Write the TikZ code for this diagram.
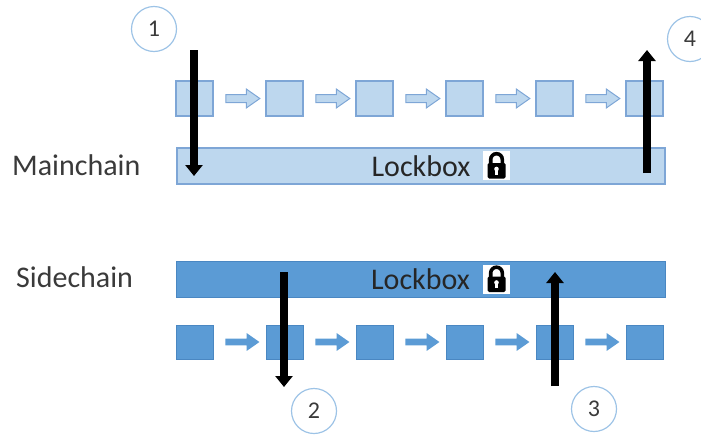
\documentclass[tikz,border=0pt]{standalone}
\usepackage{fontspec}
\setmainfont{Carlito}
\usetikzlibrary{arrows.meta,shapes.arrows}

\definecolor{mainfill}{HTML}{BDD7EE}
\definecolor{mainline}{HTML}{7EA6D6}
\definecolor{sidefill}{HTML}{5B9BD5}
\definecolor{sideline}{HTML}{4A87C2}
\definecolor{ringline}{HTML}{9DC3E6}
\definecolor{labelgray}{HTML}{3A3A3A}

\tikzset{
  chainlabel/.style={font=\fontsize{30}{36}\selectfont,text=labelgray,inner sep=0pt},
  mainblock/.style={draw=mainline,fill=mainfill,line width=1.2pt,minimum width=37pt,minimum height=35pt,inner sep=0pt},
  sideblock/.style={draw=sideline,fill=sidefill,line width=1pt,minimum width=37pt,minimum height=34pt,inner sep=0pt},
  mainflow/.style={single arrow,draw=mainline,fill=mainfill,line width=1pt,inner xsep=0pt,inner ysep=3.5pt,
    minimum height=34pt,single arrow head extend=5.5pt,single arrow tip angle=70},
  sideflow/.style={single arrow,fill=sidefill,inner xsep=0pt,inner ysep=3.2pt,
    minimum height=34pt,single arrow head extend=5.5pt,single arrow tip angle=70},
  step marker/.style={circle,draw=ringline,line width=1.2pt,minimum size=45pt,inner sep=0pt,
    font=\fontsize{24}{28}\selectfont,text=labelgray},
  bigarrow/.style={line width=7.5pt,-{Triangle[width=17pt,length=11pt]}},
  padlock/.pic={
    \fill[white] (-13.5,-14.5) rectangle (13.5,14.5);
    \draw[line width=3.6pt] (-5.8,-1) -- (-5.8,-6) arc[start angle=180,end angle=360,radius=5.8] -- (5.8,-1);
    \fill[black,rounded corners=1.5pt] (-9,-2.5) rectangle (9,13);
    \fill[white] (0,3.5) circle[radius=2.3];
    \fill[white] (-1.1,4) rectangle (1.1,9);
  }
}

\begin{document}
\begin{tikzpicture}[x=1pt,y=-1pt]
  \useasboundingbox (0,0) rectangle (701,434);
  \clip (0,0) rectangle (701,434);

  % Chain names
  \node[chainlabel,anchor=base west] (mname) at (12,175) {Mainchain};
  \node[chainlabel,anchor=base west] (sname) at (16,287) {Sidechain};

  % Lockboxes
  \node[mainblock,minimum width=488pt,minimum height=36pt,chainlabel,text=black!85] (mlock) at (421,166) {Lockbox};
  \node[sideblock,minimum width=489pt,minimum height=36pt,chainlabel,text=black!85] (slock) at (420.5,279) {Lockbox};
  \pic at (496.5,165.5) {padlock};
  \pic at (496.5,279) {padlock};

  % Blocks of the two chains
  \foreach \i in {1,...,6}{
    \node[mainblock] (m\i) at ({104.5+90*\i},98.5) {};
    \node[sideblock] (s\i) at ({105+90*\i},342) {};
  }
  \foreach \i in {1,...,5}{
    \node[mainflow] (ma\i) at ({150+90*\i},98.5) {};
    \node[sideflow] (sa\i) at ({150+90*\i},342) {};
  }

  % Steps
  \node[step marker] (c1) at (154,29) {1};
  \node[step marker] (c2) at (314,411) {2};
  \node[step marker] (c3) at (594,409) {3};
  \node[step marker] (c4) at (690,39) {4};

  \coordinate (t1) at (194,50);
  \coordinate (h1) at (194,176);
  \coordinate (t2) at (284,272);
  \coordinate (h2) at (284,387);
  \coordinate (t3) at (555,386);
  \coordinate (h3) at (555,272);
  \coordinate (t4) at (647,173);
  \coordinate (h4) at (647,50);
  \draw[bigarrow] (t1) -- (h1);
  \draw[bigarrow] (t2) -- (h2);
  \draw[bigarrow] (t3) -- (h3);
  \draw[bigarrow] (t4) -- (h4);
\end{tikzpicture}
\end{document}
